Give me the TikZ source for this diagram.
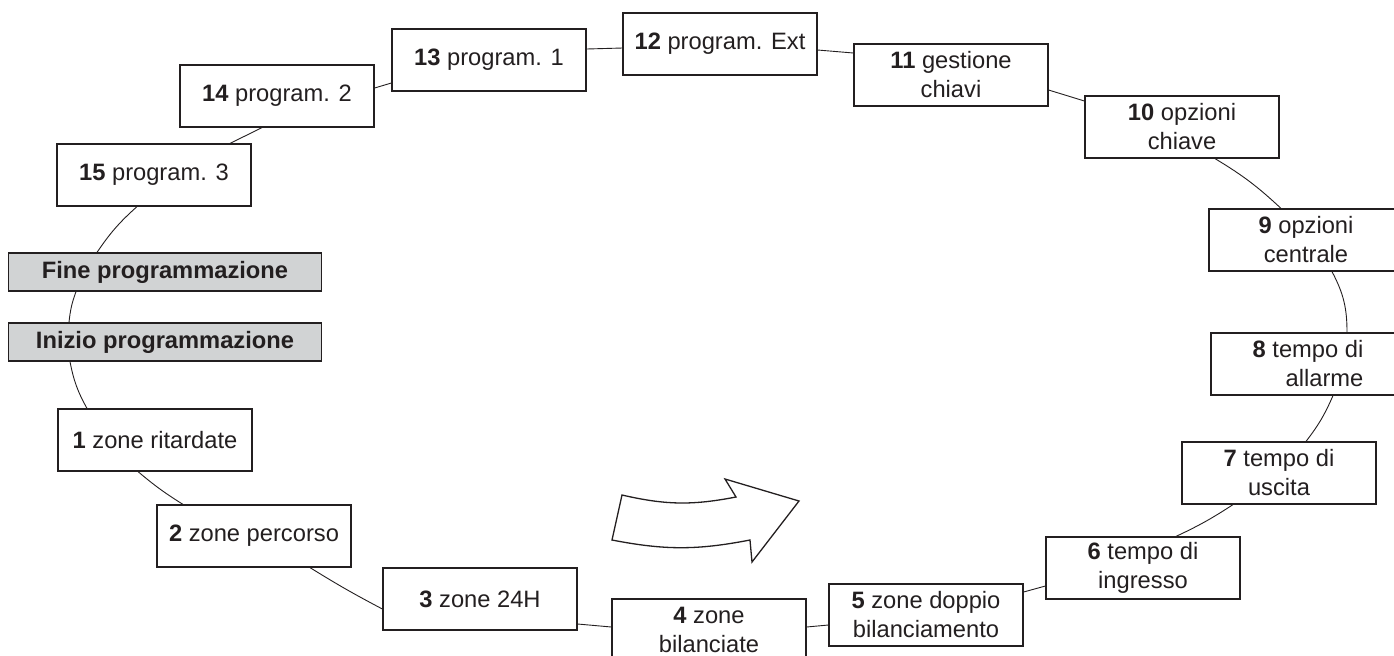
\documentclass[tikz,border=0pt]{standalone}
\usepackage{fontspec}
\setmainfont{Liberation Sans}
\usetikzlibrary{calc}
\definecolor{ink}{RGB}{35,31,32}
\definecolor{boxgrey}{RGB}{209,211,212}

\begin{document}
\begin{tikzpicture}[
                x=0.5pt, y=0.5pt,
                box/.style={rectangle, draw=ink, line width=0.6pt, fill=white, minimum width=97pt, minimum height=31pt, inner sep=1pt, align=center, text=ink, font=\fontsize{11.85}{14.5}\selectfont},
                phase/.style={box, fill=boxgrey, minimum width=156.5pt, minimum height=19pt, font=\fontsize{11.85}{14.5}\selectfont\bfseries},
                link/.style={draw=ink, line width=0.45pt}
            ]
                \clip (0,0) rectangle (1394,-655);

                \node[phase] (fine) at (165,-272) {Fine programmazione};
                \node[phase] (inizio) at (165,-342) {Inizio programmazione};
                \node[box] (ritardate) at (155,-440) {\textbf{1} zone ritardate};
                \node[box] (percorso) at (254,-536) {\textbf{2} zone percorso};
                \node[box] (h24) at (480,-599) {\textbf{3} zone 24H};
                \node[box] (bilanciate) at (709,-630) {\textbf{4} zone\\bilanciate};
                \node[box] (doppio) at (926,-615) {\textbf{5} zone doppio\\bilanciamento};
                \node[box] (ingresso) at (1143,-568) {\textbf{6} tempo di\\ingresso};
                \node[box] (uscita) at (1279,-473) {\textbf{7} tempo di\\uscita};
                \node[box, align=right] (allarme) at (1308,-364) {\textbf{8} tempo di\\allarme};
                \node[box] (centrale) at (1306,-240) {\textbf{9} opzioni\\centrale};
                \node[box] (opzchiave) at (1182,-127) {\textbf{10} opzioni\\chiave};
                \node[box] (gestione) at (951,-75) {\textbf{11} gestione\\chiavi};
                \node[box] (ext) at (720,-44) {\textbf{12} program. Ext};
                \node[box] (prog1) at (489,-60) {\textbf{13} program. 1};
                \node[box] (prog2) at (277,-96) {\textbf{14} program. 2};
                \node[box] (prog3) at (154,-175) {\textbf{15} program. 3};

                \draw[link] ($(inizio.south)+(-95,0)$) to[bend right=9] ($(ritardate.north)+(-68,0)$);
                \draw[link] ($(ritardate.south)+(-17,0)$) to[bend right=4] ($(percorso.north)+(-71,0)$);
                \draw[link] ($(percorso.south)+(56,0)$) to[bend right=2] ($(h24.west)+(0,-10)$);
                \draw[link] ($(h24.east)+(0,-25)$) -- ($(bilanciate.west)+(0,3)$);
                \draw[link] ($(bilanciate.east)+(0,3)$) -- ($(doppio.west)+(0,-10)$);
                \draw[link] ($(doppio.east)+(0,23)$) -- ($(ingresso.west)+(0,-18)$);
                \draw[link] ($(ingresso.north)+(33,0)$) to[bend right=4] ($(uscita.south)+(-46,0)$);
                \draw[link] ($(uscita.north)+(27,0)$) to[bend right=7] ($(allarme.south)+(25,0)$);
                \draw[link] ($(allarme.north)+(39,0)$) to[bend right=14] ($(centrale.south)+(26,0)$);
                \draw[link] ($(centrale.north)+(-25,0)$) to[bend right=6] ($(opzchiave.south)+(33,0)$);
                \draw[link] ($(opzchiave.west)+(0,26)$) -- ($(gestione.east)+(0,-15)$);
                \draw[link] ($(gestione.west)+(0,22)$) -- ($(ext.east)+(0,-6)$);
                \draw[link] ($(ext.west)+(0,-4)$) -- ($(prog1.east)+(0,11)$);
                \draw[link] ($(prog1.west)+(0,-23)$) -- ($(prog2.east)+(0,8)$);
                \draw[link] ($(prog2.south)+(-15,0)$) -- ($(prog3.north)+(76,0)$);
                \draw[link] ($(prog3.south)+(-17,0)$) to[bend right=7] ($(fine.north)+(-68,0)$);
                \draw[link] ($(fine.south)+(-89,0)$) to[bend right=7] ($(inizio.north)+(-96,0)$);

                \draw[ink, line width=0.65pt] (622,-495) to[bend right=12] (736,-497) -- (725,-479) -- (799,-501)
                    -- (752,-562) -- (750,-540) to[bend left=11] (612,-540) -- cycle;
            \end{tikzpicture}
\end{document}
